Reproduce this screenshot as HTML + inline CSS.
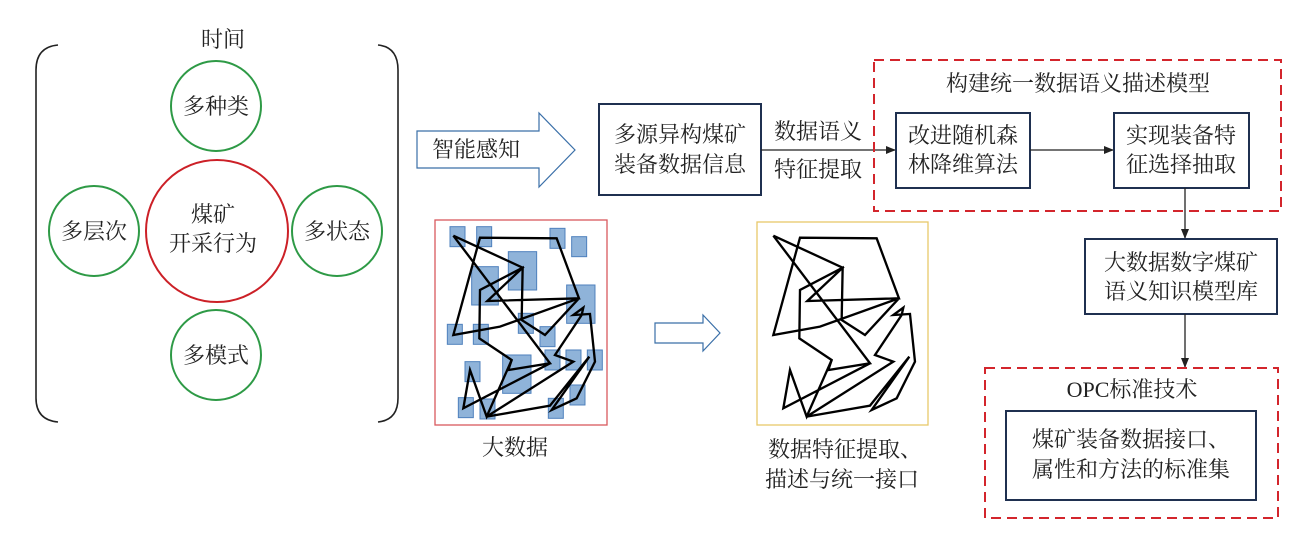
<!DOCTYPE html>
<html><head><meta charset="utf-8"><style>
html,body{margin:0;padding:0;background:#fff;}
svg text{font-family:"Liberation Serif","Noto Serif CJK SC","Noto Sans CJK SC",serif;fill:#222;}
</style></head><body>
<svg width="1316" height="539" viewBox="0 0 1316 539" xmlns="http://www.w3.org/2000/svg">
<defs>
<marker id="ah" markerWidth="10" markerHeight="8" refX="9" refY="4" orient="auto" markerUnits="userSpaceOnUse"><path d="M0,0 L10,4 L0,8 z" fill="#222"/></marker>
<g id="poly"><polyline fill="none" stroke="#000" stroke-width="7" stroke-linejoin="miter" points="70,62 278,158 172,258 447,250 380,70 150,68 70,360 210,335 447,250 345,360 275,315 278,158 150,225 148,370 245,435 235,465 360,445 70,62"/>
<polyline fill="none" stroke="#000" stroke-width="7" points="360,445 100,580 120,465 170,605 245,435"/>
<polyline fill="none" stroke="#000" stroke-width="7" points="170,605 360,572 478,425 365,585 440,550 495,440 480,297 430,300 460,278 455,300 375,420 430,440 170,605"/></g>
</defs>
<path d="M58,45 Q36,47 36,70 L36,398 Q36,420 58,422" fill="none" stroke="#222" stroke-width="1.6"/>
<path d="M378,45 Q398,47 398,70 L398,398 Q398,420 378,422" fill="none" stroke="#222" stroke-width="1.6"/>
<text x="223" y="47" font-size="22" text-anchor="middle">时间</text>
<g fill="none" stroke="#2e9a46" stroke-width="2">
<circle cx="216" cy="106" r="45"/><circle cx="94" cy="231" r="45"/><circle cx="337" cy="231" r="45"/><circle cx="216" cy="355" r="45"/></g>
<circle cx="217" cy="231" r="71" fill="none" stroke="#cc2027" stroke-width="2"/>
<g font-size="22" text-anchor="middle">
<text x="216" y="114">多种类</text><text x="94" y="239">多层次</text><text x="337" y="239">多状态</text><text x="216" y="363">多模式</text>
<text x="213" y="222">煤矿</text><text x="213" y="251">开采行为</text></g>
<path d="M417,131 L539,131 L539,113 L575,150 L539,187 L539,168 L417,168 Z" fill="#fff" stroke="#3a6fa8" stroke-width="1.2"/>
<text x="476" y="157" font-size="22" text-anchor="middle">智能感知</text>
<rect x="599" y="104" width="162" height="91" fill="#fff" stroke="#1f3050" stroke-width="2"/>
<text x="680" y="142" font-size="22" text-anchor="middle">多源异构煤矿</text>
<text x="680" y="172" font-size="22" text-anchor="middle">装备数据信息</text>
<line x1="761" y1="150" x2="895" y2="150" stroke="#222" stroke-width="1.3" marker-end="url(#ah)"/>
<text x="818" y="139" font-size="22" text-anchor="middle">数据语义</text>
<text x="818" y="177" font-size="22" text-anchor="middle">特征提取</text>
<rect x="874" y="60" width="407" height="151" fill="none" stroke="#d3252c" stroke-width="2" stroke-dasharray="10,6"/>
<text x="1078" y="91" font-size="22" text-anchor="middle">构建统一数据语义描述模型</text>
<rect x="896" y="113" width="134" height="75" fill="#fff" stroke="#1f3050" stroke-width="2"/>
<text x="963" y="143" font-size="22" text-anchor="middle">改进随机森</text>
<text x="963" y="172" font-size="22" text-anchor="middle">林降维算法</text>
<line x1="1030" y1="150" x2="1113" y2="150" stroke="#222" stroke-width="1.3" marker-end="url(#ah)"/>
<rect x="1114" y="113" width="135" height="75" fill="#fff" stroke="#1f3050" stroke-width="2"/>
<text x="1181" y="143" font-size="22" text-anchor="middle">实现装备特</text>
<text x="1181" y="172" font-size="22" text-anchor="middle">征选择抽取</text>
<line x1="1185" y1="188" x2="1185" y2="238" stroke="#222" stroke-width="1.3" marker-end="url(#ah)"/>
<rect x="1085" y="239" width="192" height="75" fill="#fff" stroke="#1f3050" stroke-width="2"/>
<text x="1181" y="270" font-size="22" text-anchor="middle">大数据数字煤矿</text>
<text x="1181" y="299" font-size="22" text-anchor="middle">语义知识模型库</text>
<line x1="1185" y1="314" x2="1185" y2="367" stroke="#222" stroke-width="1.3" marker-end="url(#ah)"/>
<rect x="985" y="368" width="293" height="150" fill="none" stroke="#d3252c" stroke-width="2" stroke-dasharray="10,6"/>
<text x="1132" y="397" font-size="22" text-anchor="middle">OPC标准技术</text>
<rect x="1006" y="411" width="250" height="89" fill="#fff" stroke="#1f3050" stroke-width="2"/>
<text x="1131" y="447" font-size="22" text-anchor="middle">煤矿装备数据接口、</text>
<text x="1131" y="477" font-size="22" text-anchor="middle">属性和方法的标准集</text>
<rect x="435" y="220" width="172" height="205" fill="#fff" stroke="#d9595e" stroke-width="1.3"/>
<g transform="translate(430,215) scale(0.3333)" fill="#8fb3d9" stroke="#4f81bd" stroke-width="3">
<rect x="60" y="35" width="45" height="60"/><rect x="140" y="35" width="45" height="60"/><rect x="360" y="40" width="45" height="60"/><rect x="425" y="65" width="45" height="60"/><rect x="235" y="110" width="85" height="115"/><rect x="125" y="155" width="80" height="115"/><rect x="410" y="210" width="85" height="115"/><rect x="52" y="328" width="45" height="60"/><rect x="130" y="328" width="45" height="60"/><rect x="265" y="295" width="45" height="60"/><rect x="330" y="335" width="45" height="60"/><rect x="105" y="440" width="45" height="60"/><rect x="218" y="420" width="85" height="115"/><rect x="345" y="405" width="45" height="60"/><rect x="408" y="405" width="45" height="60"/><rect x="472" y="405" width="45" height="60"/><rect x="85" y="548" width="45" height="60"/><rect x="150" y="552" width="45" height="60"/><rect x="355" y="550" width="45" height="60"/><rect x="420" y="510" width="45" height="60"/>
<use href="#poly"/></g>
<text x="515" y="455" font-size="22" text-anchor="middle">大数据</text>
<path d="M655,323 L703,323 L703,315 L720,333 L703,351 L703,343 L655,343 Z" fill="#fff" stroke="#3a6fa8" stroke-width="1.2"/>
<rect x="757" y="222" width="171" height="203" fill="#fff" stroke="#e8c86a" stroke-width="1.3"/>
<g transform="translate(750,215) scale(0.3333)"><use href="#poly"/></g>
<text x="845" y="457" font-size="22" text-anchor="middle">数据特征提取、</text>
<text x="842" y="487" font-size="22" text-anchor="middle">描述与统一接口</text>
</svg>
</body></html>
